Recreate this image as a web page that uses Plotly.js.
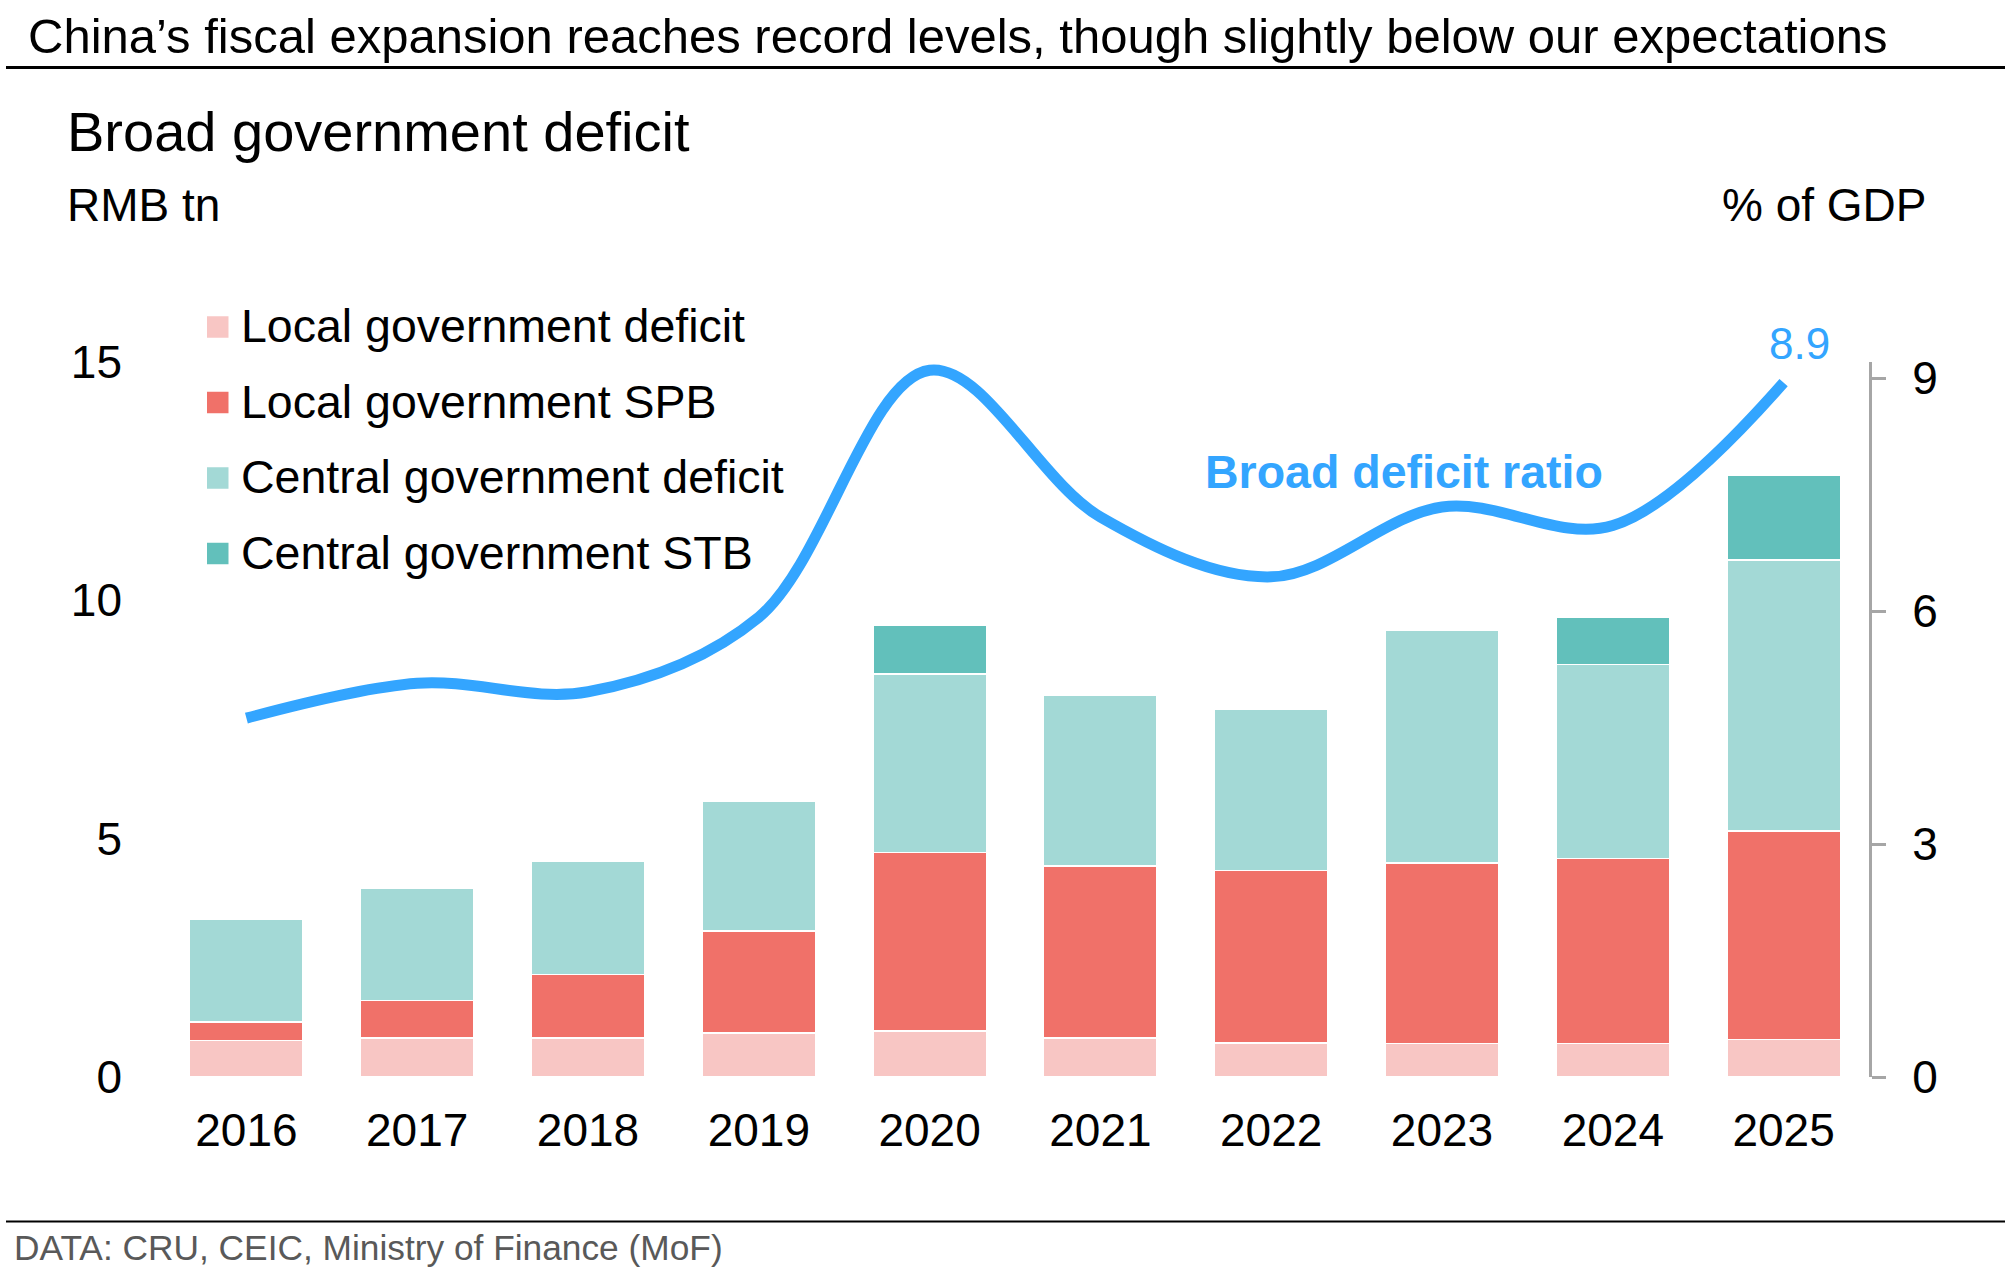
<!DOCTYPE html>
<html>
<head>
<meta charset="utf-8">
<script src="https://cdn.plot.ly/plotly-3.0.1.min.js"></script>
<style>
  html, body { margin: 0; padding: 0; background: #ffffff; }
  #chart { width: 2005px; height: 1276px; }
</style>
</head>
<body>
<div id="chart"></div>
<script>
// ---- Data (RMB tn, stacked) ----
const years = ['2016', '2017', '2018', '2019', '2020', '2021', '2022', '2023', '2024', '2025'];
const localDeficit   = [0.77, 0.82, 0.82, 0.92, 0.97, 0.82, 0.71, 0.70, 0.70, 0.79];
const localSPB       = [0.38, 0.79, 1.33, 2.14, 3.74, 3.61, 3.62, 3.79, 3.88, 4.37];
const centralDeficit = [2.17, 2.36, 2.37, 2.73, 3.74, 3.57, 3.38, 4.89, 4.07, 5.69];
const centralSTB     = [null, null, null, null, 1.02, null, null, null, 1.00, 1.78];
// ---- Data (% of GDP) ----
const deficitRatio   = [4.62, 5.07, 4.96, 5.92, 9.10, 7.21, 6.44, 7.34, 7.10, 8.94];
const lastRatioLabel = '8.9';

const seriesNames  = ['Local government deficit', 'Local government SPB', 'Central government deficit', 'Central government STB'];
const seriesColors = ['#F8C6C4', '#F07169', '#A3D9D6', '#62C0BB'];
const seriesValues = [localDeficit, localSPB, centralDeficit, centralSTB];

const leftTicks  = [0, 5, 10, 15];
const rightTicks = [0, 3, 6, 9];

// ---- Layout geometry (pixels) ----
const FIG_W = 2005, FIG_H = 1276;
const PL = 161, PR = 1869, PT = 362, PB = 1077;
const px = x => (x - PL) / (PR - PL);
const py = y => (PB - y) / (PB - PT);
const FONT = '"Liberation Sans", Arial, Helvetica, sans-serif';
const BLUE = '#33A5FF';
const AXIS_GREY = '#A6A6A6';

const traces = seriesValues.map((vals, i) => ({
  type: 'bar',
  x: years,
  y: vals,
  name: seriesNames[i],
  marker: { color: seriesColors[i], line: { color: '#ffffff', width: 1.5 } },
  showlegend: false,
  hoverinfo: 'skip'
}));

traces.push({
  type: 'scatter',
  mode: 'lines',
  x: years,
  y: deficitRatio,
  yaxis: 'y2',
  name: 'Broad deficit ratio',
  line: { color: BLUE, width: 11, shape: 'spline', smoothing: 1 },
  showlegend: false,
  hoverinfo: 'skip'
});

const annotations = [
  { text: 'China’s fiscal expansion reaches record levels, though slightly below our expectations',
    x: px(26), y: py(35.5), xanchor: 'left', font: { size: 49, color: '#000' } },
  { text: 'Broad government deficit',
    x: px(65), y: py(131), xanchor: 'left', font: { size: 56, color: '#000' } },
  { text: 'RMB tn',
    x: px(65), y: py(205), xanchor: 'left', font: { size: 46, color: '#000' } },
  { text: '% of GDP',
    x: px(1929), y: py(205), xanchor: 'right', font: { size: 46, color: '#000' } },
  { text: '<b>Broad deficit ratio</b>',
    x: px(1404), y: py(472), xanchor: 'center', font: { size: 46.5, color: BLUE } },
  { text: lastRatioLabel,
    x: px(1799), y: py(343), xanchor: 'center', font: { size: 44, color: BLUE } },
  { text: 'DATA: CRU, CEIC, Ministry of Finance (MoF)',
    x: px(12), y: py(1247.5), xanchor: 'left', font: { size: 35.3, color: '#595959' } }
];

const shapes = [
  { type: 'line', xref: 'paper', yref: 'paper', x0: px(6), x1: px(FIG_W), y0: py(67.5), y1: py(67.5),
    line: { color: '#000', width: 3 } },
  { type: 'line', xref: 'paper', yref: 'paper', x0: px(6), x1: px(FIG_W), y0: py(1221.5), y1: py(1221.5),
    line: { color: '#000', width: 2 } }
];

// ---- Manual legend ----
const legRow0 = 327, legStep = 75.5, sq = 21.5, sqX = 207, txtX = 239;
seriesNames.forEach((name, i) => {
  const cy = legRow0 + i * legStep;
  shapes.push({ type: 'rect', xref: 'paper', yref: 'paper',
    x0: px(sqX), x1: px(sqX + sq), y0: py(cy - sq / 2), y1: py(cy + sq / 2),
    fillcolor: seriesColors[i], line: { width: 0 } });
  annotations.push({ text: name, x: px(txtX), y: py(cy - 1), xanchor: 'left',
    font: { size: 46.5, color: '#000' } });
});

annotations.forEach(a => {
  a.xref = 'paper'; a.yref = 'paper'; a.showarrow = false; a.yanchor = 'middle';
  a.font.family = FONT;
});

const layout = {
  width: FIG_W,
  height: FIG_H,
  autosize: false,
  margin: { l: PL, r: FIG_W - PR, t: PT, b: FIG_H - PB, pad: 0 },
  paper_bgcolor: '#ffffff',
  plot_bgcolor: 'rgba(0,0,0,0)',
  font: { family: FONT, color: '#000' },
  barmode: 'stack',
  bargap: 0.335,
  showlegend: false,
  xaxis: {
    type: 'category',
    range: [-0.5, 9.5],
    showgrid: false, zeroline: false, showline: false, ticks: '',
    tickfont: { size: 46, color: '#000' },
    ticklabelstandoff: 22
  },
  yaxis: {
    range: [0, 15],
    tickvals: leftTicks,
    showgrid: false, zeroline: false, showline: false, ticks: '',
    tickfont: { size: 46, color: '#000' },
    ticklabelstandoff: 38
  },
  yaxis2: {
    overlaying: 'y',
    side: 'right',
    range: [0, 9.206],
    tickvals: rightTicks,
    showgrid: false, zeroline: false,
    showline: true, linecolor: AXIS_GREY, linewidth: 3,
    ticks: 'outside', ticklen: 14, tickwidth: 3, tickcolor: AXIS_GREY,
    tickfont: { size: 46, color: '#000' },
    ticklabelstandoff: 17
  },
  annotations: annotations,
  shapes: shapes
};

Plotly.newPlot('chart', traces, layout, { staticPlot: true, displayModeBar: false });
</script>
</body>
</html>
